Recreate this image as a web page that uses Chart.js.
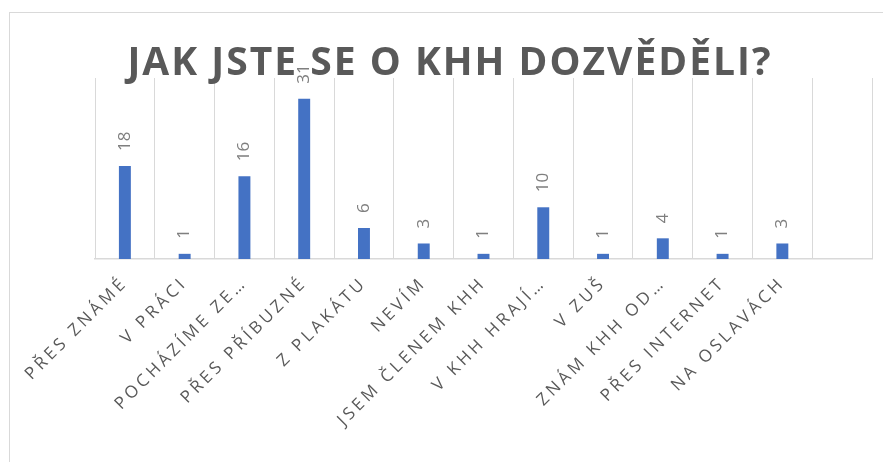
<!DOCTYPE html>
<html>
<head>
<meta charset="utf-8">
<script src="https://cdn.jsdelivr.net/npm/chart.js@4/dist/chart.umd.min.js"></script>
<style>
html,body{margin:0;padding:0;background:#fff;}
#wrap{position:relative;width:883px;height:462px;overflow:hidden;}
#frame{position:absolute;left:9px;top:12px;width:1000px;height:1000px;border:1px solid #d9d9d9;box-sizing:border-box;}
canvas{position:absolute;left:0;top:0;}
</style>
</head>
<body>
<div id="wrap">
<div id="frame"></div>
<canvas id="c" width="883" height="462"></canvas>
</div>
<script>
const titleText = "JAK JSTE SE O KHH DOZVĚDĚLI?";
const categories = ["PŘES ZNÁMÉ","V PRÁCI","POCHÁZÍME ZE…","PŘES PŘÍBUZNÉ","Z PLAKÁTU","NEVÍM","JSEM ČLENEM KHH","V KHH HRAJÍ…","V ZUŠ","ZNÁM KHH OD…","PŘES INTERNET","NA OSLAVÁCH",""];
const values = [18,1,16,31,6,3,1,10,1,4,1,3,null];
const yMax = 35;

const spacingPlugin = {
  id:'spacing',
  beforeLayout(chart){ chart.ctx.letterSpacing = '3.5px'; },
  beforeDraw(chart){ chart.ctx.letterSpacing = '3.5px'; }
};
const titlePlugin = {
  id:'ttl',
  afterDraw(chart){
    const ctx = chart.ctx;
    ctx.save();
    ctx.letterSpacing = '2px';
    ctx.font = 'bold 39px "Open Sans"';
    ctx.fillStyle = '#595959';
    ctx.textAlign = 'center';
    ctx.textBaseline = 'alphabetic';
    ctx.fillText(titleText, 450, 75);
    ctx.restore();
  }
};
const labelPlugin = {
  id:'vlabels',
  afterDatasetsDraw(chart){
    const ctx = chart.ctx;
    const meta = chart.getDatasetMeta(0);
    ctx.save();
    ctx.letterSpacing = '0px';
    ctx.font = '17px "Open Sans"';
    ctx.fillStyle = '#7f7f7f';
    ctx.textAlign = 'left';
    ctx.textBaseline = 'middle';
    meta.data.forEach((bar,i)=>{
      const v = values[i];
      if (v === null || v === undefined) return;
      ctx.save();
      ctx.translate(bar.x, bar.y - 15);
      ctx.rotate(-Math.PI/2);
      ctx.fillText(String(v), 0, 0);
      ctx.restore();
    });
    ctx.restore();
  }
};

new Chart(document.getElementById('c'), {
  type:'bar',
  data:{
    labels:categories,
    datasets:[{data:values, backgroundColor:'#4472C4', borderWidth:0, categoryPercentage:1, barPercentage:0.2}]
  },
  options:{
    responsive:false,
    animation:false,
    layout:{padding:{left:95,right:11,top:78,bottom:0}},
    plugins:{legend:{display:false},title:{display:false},tooltip:{enabled:false}},
    scales:{
      x:{
        grid:{color:'#d9d9d9',lineWidth:1,offset:true,drawTicks:false},
        border:{color:'#d9d9d9',width:1.5},
        ticks:{color:'#595959',font:{family:'"Open Sans"',size:17},minRotation:45,maxRotation:45,padding:14,autoSkip:false},
        afterFit(s){ s.height = 203; }
      },
      y:{display:false,min:0,max:yMax}
    }
  },
  plugins:[spacingPlugin,labelPlugin,titlePlugin]
});
</script>
</body>
</html>
